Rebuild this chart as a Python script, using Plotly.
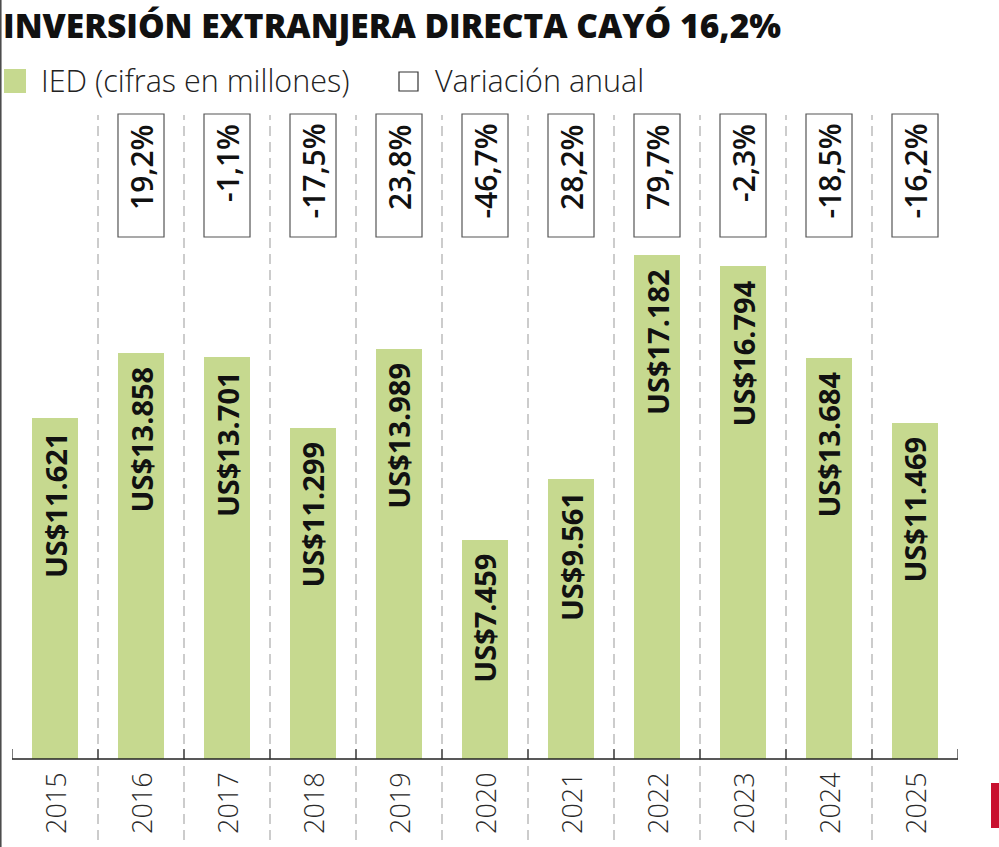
import plotly.graph_objects as go

years = ["2015", "2016", "2017", "2018", "2019", "2020", "2021", "2022", "2023", "2024", "2025"]
ied = [11621, 13858, 13701, 11299, 13989, 7459, 9561, 17182, 16794, 13684, 11469]
variation = [None, 19.2, -1.1, -17.5, 23.8, -46.7, 28.2, 79.7, -2.3, -18.5, -16.2]

title_text = "INVERSIÓN EXTRANJERA DIRECTA CAYÓ 16,2%"
legend_ied = "IED (cifras en millones)"
legend_var = "Variación anual"

W, H = 999, 847
L, R, T, B = 12, 41, 115, 7
PW, PH = W - L - R, H - T - B

GREEN = "#C6D98F"
FONT = "Open Sans"


def px(x):
    return (x - L) / PW


def py(y):
    return (H - B - y) / PH


def fmt_money(v):
    return "US$" + f"{v:,}".replace(",", ".")


def fmt_pct(v):
    return f"{v:.1f}".replace(".", ",") + "%"


n = len(years)
xs = list(range(n))
BW = 0.535

fig = go.Figure()
fig.add_trace(go.Bar(x=xs, y=ied, width=BW, marker=dict(color=GREEN, line=dict(width=0)),
                     hoverinfo="skip", showlegend=False))

shapes = []
ann = []

# dashed separators
for i in range(n - 1):
    shapes.append(dict(type="line", xref="x", yref="paper", x0=i + 0.5, x1=i + 0.5, y0=0, y1=1,
                       line=dict(color="#ABABAB", width=1.2, dash="10px,6px"), layer="below"))
# axis line and ticks
shapes.append(dict(type="line", xref="x", yref="y", x0=-0.5, x1=n - 0.5, y0=0, y1=0,
                   line=dict(color="#222222", width=1.5)))
for i in range(n + 1):
    shapes.append(dict(type="line", xref="x", yref="paper", x0=i - 0.5, x1=i - 0.5,
                       y0=py(759), y1=py(749), line=dict(color="#333333", width=1.3)))

# variation boxes
for i, v in enumerate(variation):
    if v is None:
        continue
    shapes.append(dict(type="rect", xref="x", yref="paper", x0=i - BW / 2, x1=i + BW / 2,
                       y0=py(237), y1=py(114), line=dict(color="#555555", width=1.2),
                       fillcolor="white"))
    ann.append(dict(x=i, xref="x", y=py(122), yref="paper", text=fmt_pct(v), textangle=-90,
                    showarrow=False, xanchor="center", yanchor="top",
                    font=dict(family=FONT, size=30, color="#111111", weight=600)))

# bar labels
for i, v in enumerate(ied):
    ann.append(dict(x=i, xref="x", y=v, yref="y", yshift=-12, text=fmt_money(v), textangle=-90,
                    showarrow=False, xanchor="center", yanchor="top",
                    font=dict(family=FONT, size=29, color="#111111", weight=700)))
    ann.append(dict(x=i, xref="x", y=0, yref="y", yshift=-11, text=years[i], textangle=-90,
                    showarrow=False, xanchor="center", yanchor="top",
                    font=dict(family=FONT, size=27, color="#2A2A2A", weight=300)))

# title
ann.append(dict(x=px(1), xref="paper", y=py(25), yref="paper", text=title_text,
                showarrow=False, xanchor="left", yanchor="middle",
                font=dict(family=FONT, size=33.5, color="#111111", weight=800)))
# legend
shapes.append(dict(type="rect", xref="paper", yref="paper", x0=px(4), x1=px(26), y0=py(93), y1=py(69),
                   fillcolor=GREEN, line=dict(width=0)))
ann.append(dict(x=px(39), xref="paper", y=py(80), yref="paper", text=legend_ied,
                showarrow=False, xanchor="left", yanchor="middle",
                font=dict(family=FONT, size=30.5, color="#222222", weight=300)))
shapes.append(dict(type="rect", xref="paper", yref="paper", x0=px(399), x1=px(418), y0=py(91), y1=py(72),
                   fillcolor="white", line=dict(color="#333333", width=1.2)))
ann.append(dict(x=px(433), xref="paper", y=py(80), yref="paper", text=legend_var,
                showarrow=False, xanchor="left", yanchor="middle",
                font=dict(family=FONT, size=30.5, color="#222222", weight=300)))

# left border line and logo
shapes.append(dict(type="line", xref="paper", yref="paper", x0=px(0.8), x1=px(0.8), y0=py(847), y1=py(0),
                   line=dict(color="#444444", width=1.5)))
shapes.append(dict(type="rect", xref="paper", yref="paper", x0=px(991), x1=px(1002), y0=py(828), y1=py(783),
                   fillcolor="#C8102E", line=dict(width=0)))

ymax = (759 - T) / ((759 - 255) / 17182)
ymin = -(H - B - 759) / ((759 - 255) / 17182)

fig.update_layout(
    width=W, height=H,
    margin=dict(l=L, r=R, t=T, b=B, pad=0),
    paper_bgcolor="white", plot_bgcolor="white",
    xaxis=dict(range=[-0.5, n - 0.5], visible=False, fixedrange=True),
    yaxis=dict(range=[ymin, ymax], visible=False, fixedrange=True),
    shapes=shapes, annotations=ann,
    bargap=0, showlegend=False,
    font=dict(family=FONT),
)

fig.write_html("out.html")
